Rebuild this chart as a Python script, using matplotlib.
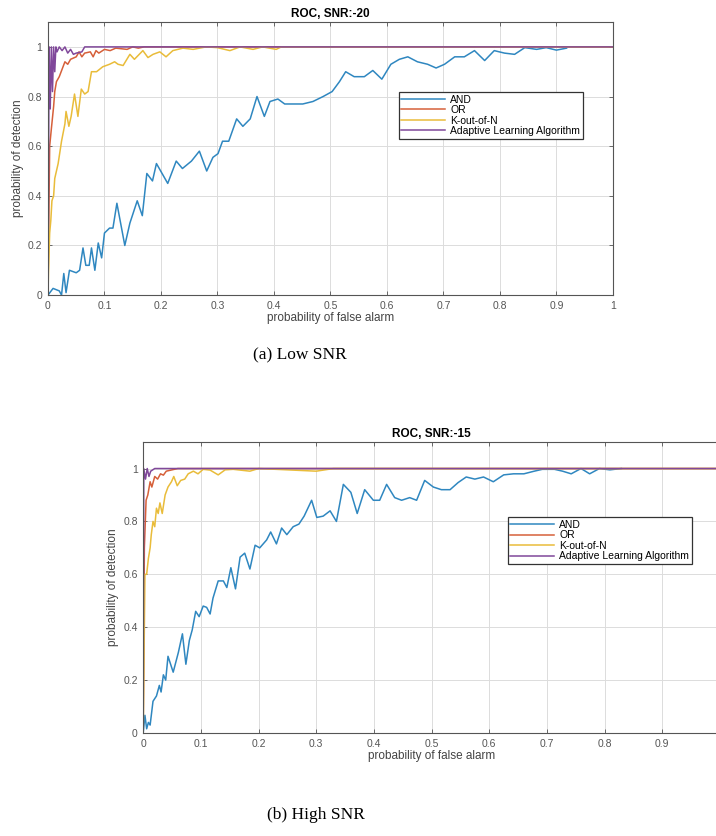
import numpy as np
import matplotlib.pyplot as plt

plt.rcParams['font.family'] = ['Liberation Sans', 'DejaVu Sans']

# ---- (a) SNR -20 ----
and_a_x = [0, 0.009, 0.02, 0.024, 0.028, 0.032, 0.038, 0.05, 0.056, 0.062, 0.067, 0.073, 0.077,
           0.083, 0.089, 0.095, 0.1, 0.109, 0.115, 0.122, 0.136, 0.145, 0.158, 0.167, 0.175, 0.185,
           0.192, 0.212, 0.227, 0.238, 0.254, 0.268, 0.281, 0.292, 0.301, 0.309, 0.32, 0.334,
           0.345, 0.358, 0.37, 0.383, 0.393, 0.407, 0.419, 0.434, 0.451, 0.469, 0.487, 0.503,
           0.516, 0.527, 0.542, 0.56, 0.575, 0.591, 0.607, 0.622, 0.637, 0.654, 0.672, 0.687,
           0.702, 0.72, 0.737, 0.755, 0.773, 0.79, 0.808, 0.826, 0.844, 0.865, 0.882, 0.9, 0.918]
and_a_y = [0, 0.027, 0.017, 0, 0.087, 0.01, 0.1, 0.09, 0.1, 0.19, 0.12, 0.12, 0.19,
           0.10, 0.21, 0.15, 0.25, 0.27, 0.27, 0.37, 0.20, 0.29, 0.38, 0.32, 0.49, 0.46,
           0.53, 0.45, 0.54, 0.51, 0.54, 0.58, 0.50, 0.555, 0.57, 0.62, 0.62, 0.71,
           0.68, 0.71, 0.80, 0.72, 0.78, 0.79, 0.77, 0.77, 0.77, 0.78, 0.80, 0.82,
           0.86, 0.90, 0.88, 0.88, 0.905, 0.87, 0.93, 0.95, 0.96, 0.94, 0.93, 0.915,
           0.93, 0.96, 0.96, 0.985, 0.945, 0.985, 0.975, 0.97, 0.997, 0.99, 0.997, 0.987, 0.995]

or_a_x = [0, 0.003, 0.006, 0.01, 0.012, 0.015, 0.02, 0.025, 0.03, 0.035, 0.04, 0.05, 0.055,
          0.06, 0.065, 0.075, 0.08, 0.085, 0.09, 0.1, 0.11, 0.12, 0.14, 0.15, 0.16, 0.17, 1.0]
or_a_y = [0, 0.6, 0.67, 0.76, 0.82, 0.86, 0.88, 0.91, 0.94, 0.93, 0.95, 0.96, 0.98,
          0.96, 0.975, 0.98, 0.96, 0.985, 0.975, 0.99, 0.985, 0.995, 0.99, 1.0, 0.995, 1.0, 1.0]

kn_a_x = [0, 0.001, 0.003, 0.005, 0.007, 0.01, 0.012, 0.015, 0.018, 0.024, 0.03, 0.032, 0.037,
          0.041, 0.047, 0.053, 0.059, 0.065, 0.071, 0.077, 0.086, 0.097, 0.109, 0.118, 0.124,
          0.133, 0.145, 0.153, 0.168, 0.177, 0.186, 0.198, 0.209, 0.221, 0.239, 0.257, 0.28,
          0.3, 0.322, 0.34, 0.363, 0.38, 0.404, 0.413, 1.0]
kn_a_y = [0, 0.1, 0.25, 0.3, 0.38, 0.4, 0.47, 0.5, 0.53, 0.62, 0.69, 0.74, 0.68,
          0.72, 0.81, 0.72, 0.83, 0.81, 0.82, 0.90, 0.90, 0.92, 0.93, 0.94, 0.93,
          0.925, 0.97, 0.95, 0.985, 0.957, 0.97, 0.98, 0.96, 0.985, 0.995, 0.99, 1.0,
          0.997, 0.985, 1.0, 0.99, 1.0, 0.99, 1.0, 1.0]

ad_a_x = [0, 0.002, 0.004, 0.006, 0.008, 0.01, 0.012, 0.014, 0.016, 0.02, 0.025, 0.03, 0.035,
          0.04, 0.045, 0.05, 0.06, 0.065, 1.0]
ad_a_y = [0, 1.0, 0.75, 1.0, 0.82, 1.0, 0.9, 1.0, 0.98, 1.0, 0.985, 1.0, 0.975,
          0.99, 0.97, 0.975, 0.98, 1.0, 1.0]

# ---- (b) SNR -15 ----
and_b_x = [0, 0.003, 0.006, 0.009, 0.012, 0.017, 0.023, 0.028, 0.031, 0.035, 0.039, 0.043, 0.052,
           0.061, 0.068, 0.074, 0.08, 0.085, 0.091, 0.097, 0.104, 0.11, 0.116, 0.121, 0.13,
           0.139, 0.145, 0.152, 0.16, 0.168, 0.176, 0.185, 0.194, 0.202, 0.214, 0.221, 0.231,
           0.24, 0.249, 0.26, 0.27, 0.279, 0.292, 0.301, 0.312, 0.324, 0.335, 0.347, 0.36,
           0.371, 0.384, 0.399, 0.41, 0.422, 0.436, 0.448, 0.462, 0.474, 0.488, 0.503, 0.517,
           0.532, 0.546, 0.56, 0.575, 0.59, 0.607, 0.625, 0.642, 0.66, 0.678, 0.692, 0.713,
           0.727, 0.742, 0.759, 0.774, 0.791, 0.809, 0.829]
and_b_y = [0, 0.067, 0.016, 0.04, 0.03, 0.12, 0.14, 0.18, 0.155, 0.22, 0.2, 0.29, 0.23,
           0.305, 0.375, 0.26, 0.35, 0.39, 0.46, 0.44, 0.48, 0.475, 0.45, 0.51, 0.575,
           0.575, 0.55, 0.625, 0.545, 0.665, 0.68, 0.62, 0.71, 0.70, 0.73, 0.76, 0.715,
           0.775, 0.75, 0.78, 0.79, 0.82, 0.88, 0.815, 0.82, 0.84, 0.80, 0.94, 0.91,
           0.83, 0.92, 0.88, 0.88, 0.94, 0.89, 0.88, 0.89, 0.88, 0.955, 0.93, 0.92,
           0.92, 0.947, 0.968, 0.96, 0.968, 0.95, 0.976, 0.98, 0.98, 0.99, 0.997, 0.997,
           0.99, 0.98, 1.0, 0.98, 1.0, 0.995, 1.0]

or_b_x = [0, 0.002, 0.005, 0.008, 0.012, 0.015, 0.02, 0.025, 0.03, 0.035, 0.04, 0.05, 0.06, 1.0]
or_b_y = [0, 0.7, 0.88, 0.9, 0.95, 0.93, 0.97, 0.96, 0.98, 0.975, 0.99, 0.995, 1.0, 1.0]

kn_b_x = [0, 0.001, 0.003, 0.006, 0.009, 0.012, 0.014, 0.017, 0.02, 0.023, 0.026, 0.029, 0.033,
          0.038, 0.043, 0.049, 0.053, 0.059, 0.065, 0.072, 0.078, 0.087, 0.095, 0.104, 0.116,
          0.13, 0.142, 0.156, 0.185, 0.2, 0.3, 0.33, 1.0]
kn_b_y = [0, 0.2, 0.6, 0.6, 0.66, 0.7, 0.75, 0.8, 0.78, 0.85, 0.83, 0.87, 0.83,
          0.9, 0.93, 0.95, 0.97, 0.935, 0.955, 0.96, 0.98, 0.99, 0.98, 0.997, 0.994,
          0.976, 0.995, 0.997, 0.99, 1.0, 0.99, 1.0, 1.0]

ad_b_x = [0, 0.001, 0.004, 0.007, 0.01, 0.013, 0.02, 1.0]
ad_b_y = [0, 1.0, 0.96, 1.0, 0.97, 0.99, 1.0, 1.0]

labels = ["AND", "OR", "K-out-of-N", "Adaptive Learning Algorithm"]
colors = ["#2F87C0", "#D6603A", "#E9BC3A", "#80489A"]
xtick_lab = ["0", "0.1", "0.2", "0.3", "0.4", "0.5", "0.6", "0.7", "0.8", "0.9", "1"]

fig = plt.figure(figsize=(7.16, 8.36), dpi=100)


def draw_panel(ax, series, title, leg_anchor, xlabels):
    for (x, y), c, lab in zip(series, colors, labels):
        ax.plot(x, y, color=c, lw=1.1, label=lab)
    ax.set_xlim(0, 1)
    ax.set_ylim(0, 1.1)
    ax.set_xticks(np.arange(0, 1.01, 0.1))
    ax.set_xticklabels(xlabels)
    ax.set_yticks([0, 0.2, 0.4, 0.6, 0.8, 1.0])
    ax.set_yticklabels(["0", "0.2", "0.4", "0.6", "0.8", "1"])
    ax.grid(True, color="#dcdcdc", lw=0.7)
    ax.set_axisbelow(True)
    ax.tick_params(direction="in", top=True, right=True, labelsize=7.5,
                   colors="#555555", length=3, width=0.6, pad=4)
    for s in ax.spines.values():
        s.set_color("#555555")
        s.set_linewidth(0.8)
    ax.set_title(title, fontsize=8.5, fontweight="bold", pad=4)
    ax.set_xlabel("probability of false alarm", fontsize=8.5, color="#444444", labelpad=1)
    ax.set_ylabel("probability of detection", fontsize=8.5, color="#444444", labelpad=3)
    leg = ax.legend(loc="upper left", bbox_to_anchor=leg_anchor, fontsize=7.5,
                    fancybox=False, framealpha=1, edgecolor="#333333",
                    handlelength=4.2, labelspacing=0.05, borderpad=0.25,
                    handletextpad=0.5, borderaxespad=0)
    leg.get_frame().set_linewidth(0.9)


ax1 = fig.add_axes([0.067, 0.647, 0.789, 0.3266])
draw_panel(ax1, [(and_a_x, and_a_y), (or_a_x, or_a_y), (kn_a_x, kn_a_y), (ad_a_x, ad_a_y)],
           "ROC, SNR:-20", (0.621, 0.744), xtick_lab)

# the right end of panel (b) is cropped in the source figure, so its "1" label is not shown
ax2 = fig.add_axes([0.2, 0.1232, 0.8056, 0.348])
draw_panel(ax2, [(and_b_x, and_b_y), (or_b_x, or_b_y), (kn_b_x, kn_b_y), (ad_b_x, ad_b_y)],
           "ROC, SNR:-15", (0.632, 0.742), xtick_lab[:-1] + [""])

fig.text(0.419, 0.575, "(a) Low SNR", family="Liberation Serif", fontsize=12.5,
         ha="center", va="center")
fig.text(0.441, 0.025, "(b) High SNR", family="Liberation Serif", fontsize=12.5,
         ha="center", va="center")

fig.savefig("out.png", dpi=100)
